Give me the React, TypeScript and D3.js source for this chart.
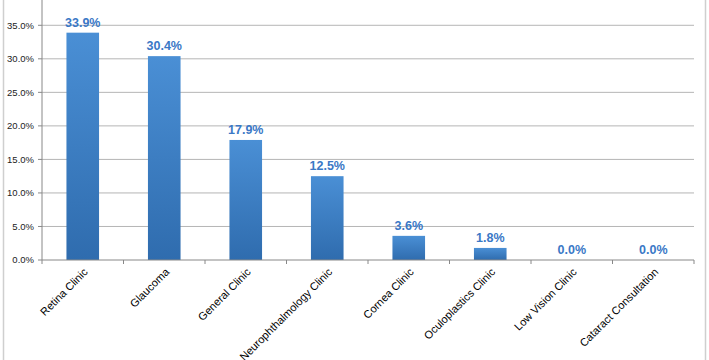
import React from "react";
import * as d3 from "d3";

const categories = [
  "Retina Clinic",
  "Glaucoma",
  "General Clinic",
  "Neurophthalmology Clinic",
  "Cornea Clinic",
  "Oculoplastics Clinic",
  "Low Vision Clinic",
  "Cataract Consultation",
];
const values = [33.9, 30.4, 17.9, 12.5, 3.6, 1.8, 0.0, 0.0];
const yTicks = [0, 5, 10, 15, 20, 25, 30, 35];

const W = 709;
const H = 360;
const left = 42;
const right = 694;
const y0 = 260;

export default function App() {
  const x = d3.scaleBand<string>().domain(categories).range([left, right]).paddingInner(0.6).paddingOuter(0.3);
  const y = d3.scaleLinear().domain([0, 40]).range([y0, y0 - 40 * 6.706]);
  const step = (right - left) / categories.length;
  const boundaries = d3.range(categories.length + 1).map((i) => left + i * step);
  const font = "'Liberation Sans', Arial, sans-serif";

  return (
    <div style={{ position: "absolute", left: 0, top: 0 }}>
      <svg width={W} height={H} style={{ display: "block", background: "#fff" }}>
        <defs>
          <linearGradient id="barGrad" x1="0" y1="0" x2="0" y2="1">
            <stop offset="0%" stopColor="#4a8fd5" />
            <stop offset="100%" stopColor="#2f6cae" />
          </linearGradient>
        </defs>
        <line x1={3.5} x2={3.5} y1={0} y2={H} stroke="#cfcfcf" strokeWidth={1.5} />
        <line x1={705.5} x2={705.5} y1={0} y2={H} stroke="#cfcfcf" strokeWidth={1.5} />
        {yTicks.map((t) => (
          <g key={t}>
            {t > 0 && (
              <line x1={left} x2={right} y1={y(t)} y2={y(t)} stroke="#b5b5b5" strokeWidth={1} />
            )}
            <line x1={left - 4} x2={left} y1={y(t)} y2={y(t)} stroke="#888" strokeWidth={1} />
            <text
              x={left - 8}
              y={y(t)}
              dy="0.35em"
              textAnchor="end"
              fontFamily={font}
              fontSize={9.5}
              fill="#222"
            >
              {t.toFixed(1) + "%"}
            </text>
          </g>
        ))}
        {categories.map((c, i) => (
          <rect
            key={c}
            x={x(c)}
            y={y(values[i])}
            width={x.bandwidth()}
            height={y0 - y(values[i])}
            fill="url(#barGrad)"
          />
        ))}
        <line x1={left} x2={left} y1={0} y2={y0} stroke="#888" strokeWidth={1} />
        <line x1={left} x2={right} y1={y0} y2={y0} stroke="#888" strokeWidth={1} />
        {boundaries.map((b, i) => (
          <line key={i} x1={b} x2={b} y1={y0} y2={y0 + 4} stroke="#888" strokeWidth={1} />
        ))}
        {categories.map((c, i) => (
          <text
            key={"v" + c}
            x={(x(c) as number) + x.bandwidth() / 2}
            y={y(values[i]) - 6}
            textAnchor="middle"
            fontFamily={font}
            fontWeight="bold"
            fontSize={12.5}
            fill="#3a78c6"
          >
            {values[i].toFixed(1) + "%"}
          </text>
        ))}
        {categories.map((c) => {
          const cx = (x(c) as number) + x.bandwidth() / 2 + 3;
          const cy = 270;
          return (
            <text
              key={"l" + c}
              x={cx}
              y={cy}
              transform={`rotate(-45 ${cx} ${cy})`}
              textAnchor="end"
              dy="0.35em"
              fontFamily={font}
              fontSize={11}
              fill="#000"
            >
              {c}
            </text>
          );
        })}
      </svg>
    </div>
  );
}
